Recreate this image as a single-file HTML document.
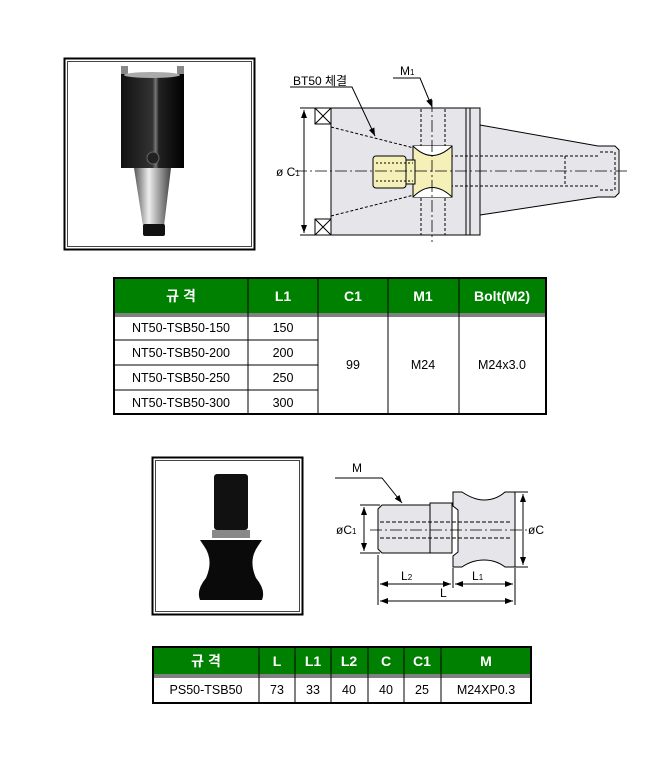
<!DOCTYPE html>
<html><head><meta charset="utf-8"><style>
body{margin:0;background:#fff;width:670px;height:768px;overflow:hidden}
svg{display:block}
text{font-family:"Liberation Sans","Noto Sans CJK KR",sans-serif}
</style></head><body>
<svg width="670" height="768" viewBox="0 0 670 768" xmlns="http://www.w3.org/2000/svg">
<defs>
<linearGradient id="blk" x1="0" x2="1"><stop offset="0" stop-color="#111"/><stop offset="0.5" stop-color="#333"/><stop offset="0.55" stop-color="#777"/><stop offset="0.6" stop-color="#222"/><stop offset="1" stop-color="#000"/></linearGradient>
<linearGradient id="sil" x1="0" x2="1"><stop offset="0" stop-color="#555"/><stop offset="0.4" stop-color="#eee"/><stop offset="1" stop-color="#444"/></linearGradient>
<marker id="ar" markerWidth="8" markerHeight="6" refX="8" refY="3" orient="auto"><path d="M0,0L8,3L0,6z" fill="#000"/></marker>
<marker id="al" markerWidth="8" markerHeight="6" refX="0" refY="3" orient="auto"><path d="M8,0L0,3L8,6z" fill="#000"/></marker>
</defs>
<!-- photo 1 -->
<rect x="64.5" y="58.5" width="190" height="191" fill="none" stroke="#000" stroke-width="2"/>
<rect x="67.5" y="61.5" width="184" height="185" fill="#fff" stroke="#444" stroke-width="1"/>
<rect x="121" y="66" width="7" height="10" fill="#888"/><rect x="177" y="66" width="7" height="10" fill="#888"/>
<rect x="121" y="74" width="63" height="94" fill="url(#blk)"/>
<ellipse cx="152" cy="75" rx="28" ry="3" fill="#aaa"/>
<circle cx="153" cy="158" r="6" fill="#222" stroke="#666"/>
<polygon points="134,168 171,168 164,226 143,226" fill="url(#sil)"/>
<rect x="143" y="224" width="22" height="12" rx="2" fill="#111"/>
<!-- drawing 1 -->
<g stroke="#000" fill="none" stroke-width="1">
<rect x="331" y="108" width="135" height="127" fill="#e6e6ea"/>
<rect x="466" y="108" width="14" height="127" fill="#e6e6ea"/>
<line x1="470" y1="108" x2="470" y2="235"/>
<polygon points="480,125 598,146 615,146 619,150 619,193 615,197 598,197 480,215" fill="#e6e6ea"/>
<rect x="315" y="108" width="16" height="16" fill="#fff"/><path d="M315,108L331,124M331,108L315,124"/>
<rect x="315" y="219" width="16" height="16" fill="#fff"/><path d="M315,219L331,235M331,219L315,235"/>
<path d="M331,127L414,148M331,216L414,195" stroke-dasharray="3,2"/>
<rect x="421" y="108" width="24" height="38" stroke-dasharray="3,2"/>
<rect x="421" y="197" width="24" height="38" stroke-dasharray="3,2"/>
<path d="M450,156H600M450,186H600M565,156V186M600,152H615V190H600" stroke-dasharray="3,2"/>
<path d="M413,146H452V197H413Z" fill="#f4f0b8"/>
<path d="M413,146Q432,165 452,146M413,197Q432,178 452,197" fill="#fff"/>
<rect x="405" y="160" width="10" height="24" fill="#f4f0b8"/>
<rect x="373" y="156" width="33" height="32" rx="3" fill="#f4f0b8"/>
<path d="M376,163H413M376,181H413" stroke-dasharray="2,2"/>
<line x1="295" y1="171" x2="630" y2="171" stroke-dasharray="12,3,2,3" stroke-width="0.8"/>
<line x1="432" y1="100" x2="432" y2="242" stroke-dasharray="12,3,2,3" stroke-width="0.8"/>
<line x1="300" y1="108" x2="315" y2="108"/><line x1="300" y1="235" x2="315" y2="235"/>
<line x1="304" y1="110" x2="304" y2="233" marker-start="url(#al)" marker-end="url(#ar)"/>
<path d="M290,87H352L375,136" marker-end="url(#ar)"/>
<path d="M393,78H420L432,107" marker-end="url(#ar)"/>
</g>
<text x="293" y="85" font-size="12">BT50 체결</text>
<text x="400" y="75" font-size="12">M<tspan font-size="8">1</tspan></text>
<text x="276" y="176" font-size="12">ø C<tspan font-size="8">1</tspan></text>
<!-- table 1 -->
<g font-size="13" text-anchor="middle">
<rect x="114" y="278" width="432" height="35" fill="#008000"/>
<rect x="114" y="278" width="432" height="136" fill="none" stroke="#000" stroke-width="2"/>
<line x1="114" y1="314" x2="546" y2="314" stroke="#000" stroke-width="1"/>
<line x1="114" y1="316" x2="546" y2="316" stroke="#000" stroke-width="1"/>
<g stroke="#000" stroke-width="1">
<line x1="248" y1="278" x2="248" y2="414"/><line x1="318" y1="278" x2="318" y2="414"/><line x1="388" y1="278" x2="388" y2="414"/><line x1="459" y1="278" x2="459" y2="414"/>
<line x1="114" y1="340" x2="318" y2="340"/><line x1="114" y1="365" x2="318" y2="365"/><line x1="114" y1="390" x2="318" y2="390"/>
</g>
<g fill="#fff" font-size="14" font-weight="bold"><text x="181" y="301">규 격</text><text x="283" y="301">L1</text><text x="353" y="301">C1</text><text x="423" y="301">M1</text><text x="502" y="301">Bolt(M2)</text></g>
<g font-size="12.5"><text x="181" y="332">NT50-TSB50-150</text><text x="283" y="332">150</text>
<text x="181" y="357">NT50-TSB50-200</text><text x="283" y="357">200</text>
<text x="181" y="382">NT50-TSB50-250</text><text x="283" y="382">250</text>
<text x="181" y="407">NT50-TSB50-300</text><text x="283" y="407">300</text>
<text x="353" y="369">99</text><text x="423" y="369">M24</text><text x="502" y="369">M24x3.0</text></g>
</g>
<!-- photo 2 -->
<rect x="152.5" y="457.5" width="150" height="157" fill="none" stroke="#000" stroke-width="2"/>
<rect x="155.5" y="460.5" width="144" height="151" fill="#fff" stroke="#444"/>
<rect x="214" y="474" width="34" height="56" rx="3" fill="#111"/>
<rect x="212" y="530" width="38" height="8" fill="#888"/>
<path d="M200,540H262L258,546Q248,560 256,578Q266,590 262,600H200Q196,590 206,578Q214,560 204,546Z" fill="#0a0a0a"/>
<!-- drawing 2 -->
<g stroke="#000" fill="none" stroke-width="1">
<path d="M382,505H430V553H382L378,549V509Z" fill="#e6e6ea"/>
<rect x="430" y="503" width="22" height="50" fill="#e6e6ea"/>
<path d="M453,492H462Q474,500 484,500Q496,500 505,492H515V567H505Q496,560 484,560Q472,560 462,567H453V556L458,552V510L453,506Z" fill="#e6e6ea"/>
<path d="M380,522H512M380,538H512" stroke-dasharray="4,2"/>
<line x1="370" y1="530" x2="530" y2="530" stroke-dasharray="12,3,2,3" stroke-width="0.8"/>
<line x1="360" y1="505" x2="380" y2="505"/><line x1="360" y1="553" x2="380" y2="553"/>
<line x1="364" y1="507" x2="364" y2="551" marker-start="url(#al)" marker-end="url(#ar)"/>
<line x1="515" y1="492" x2="528" y2="492"/><line x1="515" y1="567" x2="528" y2="567"/>
<line x1="523" y1="494" x2="523" y2="565" marker-start="url(#al)" marker-end="url(#ar)"/>
<line x1="378" y1="555" x2="378" y2="605"/><line x1="453" y1="568" x2="453" y2="588"/><line x1="515" y1="568" x2="515" y2="605"/>
<line x1="380" y1="584" x2="451" y2="584" marker-start="url(#al)" marker-end="url(#ar)"/>
<line x1="455" y1="584" x2="513" y2="584" marker-start="url(#al)" marker-end="url(#ar)"/>
<line x1="380" y1="601" x2="513" y2="601" marker-start="url(#al)" marker-end="url(#ar)"/>
<path d="M335,478H382L402,503" marker-end="url(#ar)"/>
</g>
<g font-size="12"><text x="352" y="472">M</text><text x="336" y="534">øC<tspan font-size="8">1</tspan></text><text x="528" y="534">øC</text>
<text x="401" y="580">L<tspan font-size="8">2</tspan></text><text x="472" y="580">L<tspan font-size="8">1</tspan></text><text x="440" y="597">L</text></g>
<!-- table 2 -->
<g text-anchor="middle">
<rect x="153" y="647" width="378" height="27" fill="#008000"/>
<rect x="153" y="647" width="378" height="56" fill="none" stroke="#000" stroke-width="2"/>
<line x1="153" y1="675" x2="531" y2="675" stroke="#000"/><line x1="153" y1="677" x2="531" y2="677" stroke="#000"/>
<g stroke="#000"><line x1="259" y1="647" x2="259" y2="703"/><line x1="295" y1="647" x2="295" y2="703"/><line x1="331" y1="647" x2="331" y2="703"/><line x1="368" y1="647" x2="368" y2="703"/><line x1="404" y1="647" x2="404" y2="703"/><line x1="441" y1="647" x2="441" y2="703"/></g>
<g fill="#fff" font-size="14" font-weight="bold"><text x="206" y="666">규 격</text><text x="277" y="666">L</text><text x="313" y="666">L1</text><text x="349" y="666">L2</text><text x="386" y="666">C</text><text x="422" y="666">C1</text><text x="486" y="666">M</text></g>
<g font-size="12.5"><text x="206" y="694">PS50-TSB50</text><text x="277" y="694">73</text><text x="313" y="694">33</text><text x="349" y="694">40</text><text x="386" y="694">40</text><text x="422" y="694">25</text><text x="486" y="694">M24XP0.3</text></g>
</g>
</svg>
</body></html>
